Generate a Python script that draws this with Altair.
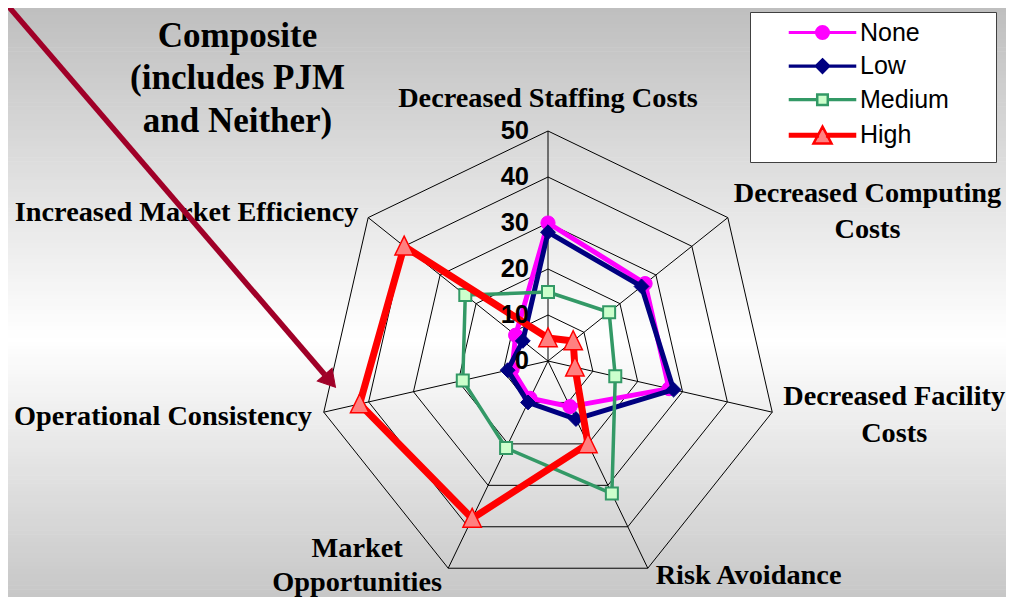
import math
import altair as alt
import pandas as pd

# ---------------- data ----------------
categories = [
    "Decreased Staffing Costs",
    "Decreased Computing Costs",
    "Decreased Facility Costs",
    "Risk Avoidance",
    "Market Opportunities",
    "Operational Consistency",
    "Increased Market Efficiency",
]
category_lines = [
    ["Decreased Staffing Costs"],
    ["Decreased Computing", "Costs"],
    ["Decreased Facility", "Costs"],
    ["Risk Avoidance"],
    ["Market", "Opportunities"],
    ["Operational Consistency"],
    ["Increased Market Efficiency"],
]
series_names = ["None", "Low", "Medium", "High"]
none_values = [30, 27, 27, 11, 9, 8, 9]
low_values = [28, 26, 28, 14, 10, 9, 7]
medium_values = [15, 17, 15, 32, 21, 19, 23]
high_values = [5, 7, 6, 20, 38, 42, 40]
ring_values = [10, 20, 30, 40, 50]
tick_values = [0, 10, 20, 30, 40, 50]
title_lines = ["Composite", "(includes PJM", "and Neither)"]

series_values = {
    "None": none_values,
    "Low": low_values,
    "Medium": medium_values,
    "High": high_values,
}

# ---------------- layout / style ----------------
W, H = 998, 589
CX, CY = 540.0, 353.0      # radar centre inside the plot, px
PXU = 4.6                  # px per value unit
N = len(categories)
R_MAX = 50
X_MIN, X_MAX = -CX / PXU, (W - CX) / PXU
Y_MIN, Y_MAX = -(H - CY) / PXU, CY / PXU


def polar(r, i):
    t = 2 * math.pi * i / N
    return r * math.sin(t), r * math.cos(t)


x_scale = alt.Scale(domain=[X_MIN, X_MAX], nice=False, zero=False)
y_scale = alt.Scale(domain=[Y_MIN, Y_MAX], nice=False, zero=False)


def X(f):
    return alt.X(f, type="quantitative", scale=x_scale, axis=None)


def Y(f):
    return alt.Y(f, type="quantitative", scale=y_scale, axis=None)


TRI_PATH = "M0,-1.1 L1,0.95 L-1,0.95 Z"
styles = {
    "None": dict(color="#ff00ff", width=5, shape="circle", size=200, fill="#ff00ff", stroke="#ff00ff", sw=1),
    "Low": dict(color="#000080", width=5, shape="diamond", size=220, fill="#000080", stroke="#000080", sw=1),
    "Medium": dict(color="#339966", width=3.5, shape="square", size=144, fill="#ccffcc", stroke="#339966", sw=2),
    "High": dict(color="#ff0000", width=7, shape=TRI_PATH, size=340, fill="#ff8080", stroke="#ff0000", sw=1.5),
}

# legend symbols: line + marker, unit = sqrt(size)/2 = 6px; lone moveTo's only set the box extent
BOUNDS = "M-10.75,0 M26.6,0 "
legend_paths = [
    BOUNDS + "M-5.42,-0.06 L5.42,-0.06 L5.42,0.06 L-5.42,0.06 Z "
    "M1.05,0 A1.05,1.05 0 1,1 -1.05,0 A1.05,1.05 0 1,1 1.05,0 Z",
    BOUNDS + "M-5.42,-0.06 L5.42,-0.06 L5.42,0.06 L-5.42,0.06 Z M0,-1.1 L1.1,0 L0,1.1 L-1.1,0 Z",
    BOUNDS + "M-5.42,-0.06 L-0.88,-0.06 L-0.88,0.06 L-5.42,0.06 Z M0.88,-0.06 L5.42,-0.06 L5.42,0.06 L0.88,0.06 Z "
    "M-0.88,-0.88 L0.88,-0.88 L0.88,0.88 L-0.88,0.88 Z",
    BOUNDS + "M0,2.25 M-5.42,-0.2 L-0.78,-0.2 L-0.78,0.2 L-5.42,0.2 Z M0.78,-0.2 L5.42,-0.2 L5.42,0.2 L0.78,0.2 Z "
    "M0,-1.45 L1.5,1.35 L-1.5,1.35 Z",
]
legend_fills = ["#ff00ff", "#000080", "#ccffcc", "#ff8080"]
legend_strokes = ["#ff00ff", "#000080", "#339966", "#ff0000"]

label_layout = [  # anchor (value units), alignment, line spacing px
    (0.0, 57.0, "center", 36.5),
    (69.46, 32.35, "center", 36.5),
    (75.26, -11.9, "center", 36.5),
    (43.6, -46.8, "center", 36.5),
    (-41.5, -44.6, "center", 34.0),
    (-51.3, -12.2, "right", 36.5),
    (-41.2, 32.1, "right", 36.5),
]
TITLE_X, TITLE_Y, TITLE_LH = (237.5 - 8 - CX) / PXU, (CY - (46.9 - 8)) / PXU, 42.5 / PXU

ARROW_TAIL = (-118.5, 78.5)
ARROW_TIP = (-46.2, -5.7)
ARROW_COLOR = "#a00028"

# vertical background shading (page fraction, grey level)
BG_STOPS = [(0.0, 189), (0.56, 255), (1.0, 197)]
BG_BANDS = 150

# ---------------- derived tables ----------------
def grey_at(f):
    for (f0, g0), (f1, g1) in zip(BG_STOPS[:-1], BG_STOPS[1:]):
        if f <= f1:
            t = (f - f0) / (f1 - f0)
            return g0 + t * (g1 - g0)
    return BG_STOPS[-1][1]


bg_rows = []
for b in range(BG_BANDS):
    top_px = b * H / BG_BANDS
    bot_px = min(H, (b + 1) * H / BG_BANDS + 0.6)
    f = (8 + (top_px + bot_px) / 2) / 605
    g = int(round(grey_at(f)))
    bg_rows.append({
        "x0": X_MIN, "x1": X_MAX,
        "y0": Y_MAX - top_px / PXU, "y1": Y_MAX - bot_px / PXU,
        "c": "#%02x%02x%02x" % (g, g, g),
    })
bg_df = pd.DataFrame(bg_rows)

ring_rows = []
for r in ring_values:
    for k in range(N + 1):
        x, y = polar(r, k % N)
        ring_rows.append({"ring": r, "o": k, "x": x, "y": y})
ring_df = pd.DataFrame(ring_rows)

spoke_rows = []
for i in range(N):
    x, y = polar(R_MAX, i)
    spoke_rows.append({"x0": 0.0, "y0": 0.0, "x1": x, "y1": y})
spoke_df = pd.DataFrame(spoke_rows)

series_rows = []
for name in series_names:
    vals = series_values[name]
    for k in range(N + 1):
        i = k % N
        x, y = polar(vals[i], i)
        series_rows.append({"series": name, "category": categories[i], "value": vals[i], "o": k, "x": x, "y": y})
series_df = pd.DataFrame(series_rows)

tick_df = pd.DataFrame({"y": tick_values, "x": [0.0] * len(tick_values), "label": [str(t) for t in tick_values]})

label_rows = []
for lines, (lx, ly, al, lh) in zip(category_lines, label_layout):
    n = len(lines)
    for j, t in enumerate(lines):
        label_rows.append({"x": lx, "y": ly + ((n - 1) / 2 - j) * lh / PXU, "text": t, "align": al})
label_df = pd.DataFrame(label_rows)

title_df = pd.DataFrame({
    "x": [TITLE_X] * len(title_lines),
    "y": [TITLE_Y - j * TITLE_LH for j in range(len(title_lines))],
    "text": title_lines,
})

# arrow geometry
dxu = ARROW_TIP[0] - ARROW_TAIL[0]
dyu = ARROW_TIP[1] - ARROW_TAIL[1]
L = math.hypot(dxu, dyu)
ux, uy = dxu / L, dyu / L
head_len_px, head_center_px = 16.6, 9.75
arrow_df = pd.DataFrame({
    "x": [ARROW_TAIL[0], ARROW_TIP[0] - ux * head_len_px / PXU],
    "y": [ARROW_TAIL[1], ARROW_TIP[1] - uy * head_len_px / PXU],
    "o": [0, 1],
})
head_df = pd.DataFrame({
    "x": [ARROW_TIP[0] - ux * head_center_px / PXU],
    "y": [ARROW_TIP[1] - uy * head_center_px / PXU],
})
head_angle = math.degrees(math.atan2(ux, uy)) % 360

# ---------------- layers ----------------
layers = []

bg = alt.Chart(bg_df).mark_rect(strokeWidth=0).encode(
    x=X("x0"), x2=alt.X2("x1"), y=Y("y0"), y2=alt.Y2("y1"),
    color=alt.Color("c:N", scale=None),
)
layers.append(bg)

rings = alt.Chart(ring_df).mark_line(color="#000000", strokeWidth=1).encode(
    x=X("x"), y=Y("y"), detail="ring:N", order="o:Q"
)
spokes = alt.Chart(spoke_df).mark_rule(color="#000000", strokeWidth=1).encode(
    x=X("x0"), y=Y("y0"), x2=alt.X2("x1"), y2=alt.Y2("y1")
)
layers += [rings, spokes]

for name in series_names:
    s = styles[name]
    line = alt.Chart(series_df).transform_filter(alt.datum.series == name).mark_line(
        color=s["color"], strokeWidth=s["width"], strokeJoin="round"
    ).encode(x=X("x"), y=Y("y"), order="o:Q")
    pts = alt.Chart(series_df).transform_filter(
        (alt.datum.series == name) & (alt.datum.o < N)
    ).mark_point(
        shape=s["shape"], size=s["size"], filled=True, fill=s["fill"], stroke=s["stroke"],
        strokeWidth=s["sw"], opacity=1,
    ).encode(x=X("x"), y=Y("y"))
    layers += [line, pts]

ticks = alt.Chart(tick_df).mark_text(
    align="right", baseline="middle", dx=-19, font="Liberation Sans", fontWeight="bold",
    fontSize=25.5, color="#000000",
).encode(x=X("x"), y=Y("y"), text="label:N")
layers.append(ticks)

for al in ["center", "right"]:
    layers.append(
        alt.Chart(label_df).transform_filter(alt.datum.align == al).mark_text(
            align=al, baseline="middle", font="Liberation Serif",
            fontWeight="bold", fontSize=28.3, color="#000000",
        ).encode(x=X("x"), y=Y("y"), text="text:N")
    )

title = alt.Chart(title_df).mark_text(
    align="center", baseline="alphabetic", font="Liberation Serif",
    fontWeight="bold", fontSize=35, color="#000000",
).encode(x=X("x"), y=Y("y"), text="text:N")
layers.append(title)

arrow_line = alt.Chart(arrow_df).mark_line(color=ARROW_COLOR, strokeWidth=5.5, strokeCap="butt").encode(
    x=X("x"), y=Y("y"), order="o:Q"
)
arrow_head = alt.Chart(head_df).mark_point(
    shape="M0,-1 L1,0.7 L-1,0.7 Z", size=380, filled=True, fill=ARROW_COLOR, stroke=ARROW_COLOR,
    strokeWidth=1, opacity=1, angle=head_angle,
).encode(x=X("x"), y=Y("y"))
layers += [arrow_line, arrow_head]

leg = alt.Legend(
    title=None, orient="none", legendX=742, legendY=4, padding=8, rowPadding=7.6,
    symbolSize=144, symbolStrokeWidth=2.5, symbolOffset=52, labelOffset=25,
    labelFont="Liberation Sans", labelFontSize=25, labelColor="#000000", labelLimit=400,
    fillColor="#ffffff", strokeColor="#404040",
)
legend_layer = alt.Chart(pd.DataFrame({"series": series_names})).transform_filter("false").mark_point(
    filled=True, opacity=1
).encode(
    shape=alt.Shape("series:N", scale=alt.Scale(domain=series_names, range=legend_paths), legend=leg),
    fill=alt.Fill("series:N", scale=alt.Scale(domain=series_names, range=legend_fills), legend=leg),
    stroke=alt.Stroke("series:N", scale=alt.Scale(domain=series_names, range=legend_strokes), legend=leg),
)
layers.append(legend_layer)

chart = alt.layer(*layers).properties(
    width=W, height=H, padding=0, autosize=alt.AutoSizeParams(type="none"),
    background="#ffffff",
).configure_view(stroke=None)

chart.save("out.html", embed_options={"renderer": "svg", "actions": False})
